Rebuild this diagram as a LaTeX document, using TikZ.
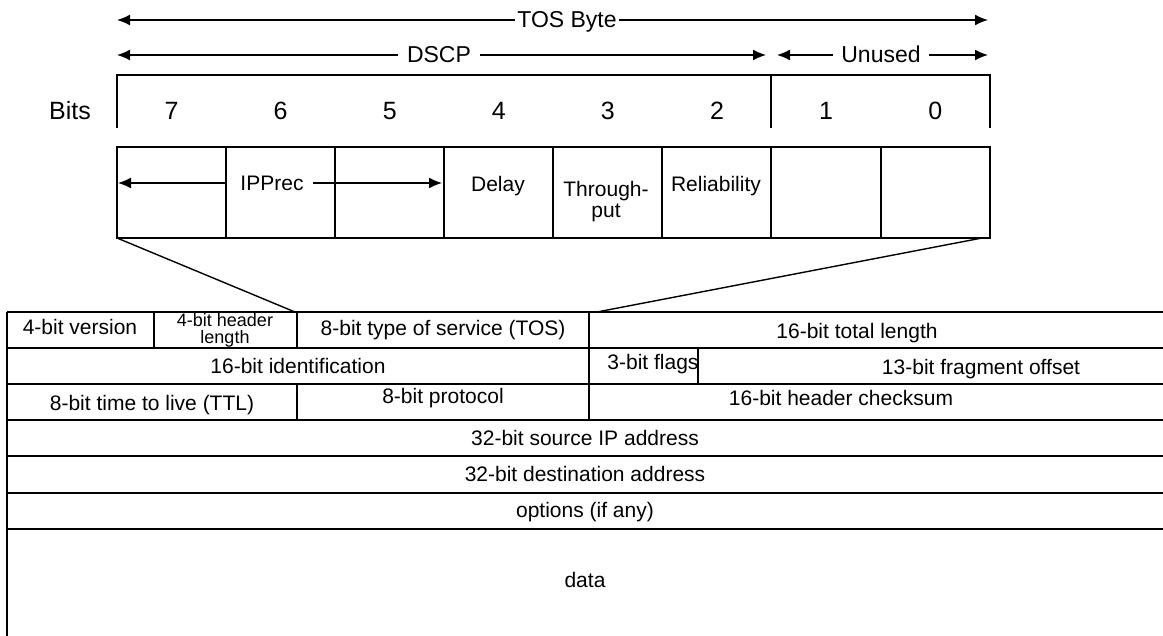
\documentclass[tikz,border=0pt]{standalone}
\usepackage{fontspec}
\setmainfont{Liberation Sans}
\usetikzlibrary{arrows.meta}
\begin{document}
\begin{tikzpicture}[x=1pt,y=-1pt,line width=1.5pt,
  lbl/.style={inner sep=0pt,anchor=base,font=\fontsize{21}{22}\selectfont},
  top/.style={inner sep=0pt,anchor=base,font=\fontsize{23}{25}\selectfont},
  dig/.style={inner sep=0pt,anchor=base,font=\fontsize{25}{27}\selectfont},
  arr/.style={-{Latex[length=13pt,width=11pt]},line width=1.5pt},
  conn/.style={line width=1.4pt}]
\useasboundingbox (0,0) rectangle (1163,636);
\clip (0,0) rectangle (1163,636);
\fill[white] (0,0) rectangle (1163,636);

% ---- top dimension arrows
\node[top] (tos) at (567,28) {TOS Byte};
\coordinate (tosL) at (117,20);
\coordinate (tosR) at (988,20);
\draw[arr] ([xshift=-2pt]tos.west |- tosL) -- (tosL);
\draw[arr] ([xshift=2pt]tos.east |- tosR) -- (tosR);

\node[top] (dscp) at (439,63) {DSCP};
\coordinate (dscpL) at (117,55);
\coordinate (dscpR) at (766,55);
\draw[arr] ([xshift=-8pt]dscp.west |- dscpL) -- (dscpL);
\draw[arr] ([xshift=8pt]dscp.east |- dscpR) -- (dscpR);

\node[top] (unused) at (881,63) {Unused};
\coordinate (unL) at (777,55);
\coordinate (unR) at (988,55);
\draw[arr] ([xshift=-8pt]unused.west |- unL) -- (unL);
\draw[arr] ([xshift=8pt]unused.east |- unR) -- (unR);

% ---- bits bracket
\draw (117,128) -- (117,75) -- (990,75) -- (990,128);
\draw (771,75) -- (771,128);
\node[dig] (bits) at (70,120) {Bits};
\foreach \b [count=\i from 0] in {7,6,5,4,3,2,1,0}
  \node[dig] (d\b) at ({171.5+109.1*\i},120) {\b};

% ---- TOS byte boxes
\draw (117,147) rectangle (990,238);
\foreach \x in {226,335,444,553,662,771,881}
  \draw (\x,147) -- (\x,238);
\node[lbl] (ipprec) at (272,190.5) {IPPrec};
\coordinate (ipL) at (118,183);
\coordinate (ipR) at (442,183);
\draw[arr] (226,183) -- (ipL);
\draw[arr] ([xshift=9pt]ipprec.east |- ipR) -- (ipR);
\node[lbl] (delay) at (498,191.5) {Delay};
\node[inner sep=0pt,align=center,font=\fontsize{21}{21}\selectfont] (thr) at (606,202) {Through-\\put};
\node[lbl] (rel) at (716,192) {Reliability};

% ---- connectors to the header
\coordinate (tosBL) at (117,238);
\coordinate (tosBR) at (982,238);
\coordinate (tblA) at (295,312);
\coordinate (tblB) at (597,312);
\draw[conn] (tosBL) -- (tblA);
\draw[conn] (tosBR) -- (tblB);

% ---- IP header table
\foreach \y in {312,348,384,420,456,493,529}
  \draw (7,\y) -- (1175,\y);
\draw (7,312) -- (7,650);
\draw (154,312) -- (154,348);
\draw (297,312) -- (297,348);
\draw (589,312) -- (589,420);
\draw (698,348) -- (698,384);
\draw (297,384) -- (297,420);

\node[lbl] (ver) at (80,334.5) {4-bit version};
\node[inner sep=0pt,align=center,font=\fontsize{18}{17}\selectfont] (hl) at (225,330) {4-bit header\\length};
\node[lbl] (tosf) at (443,335.5) {8-bit type of service (TOS)};
\node[lbl] (tlen) at (857,338.5) {16-bit total length};
\node[lbl] (ident) at (298,373.5) {16-bit identification};
\node[lbl] (flags) at (653,369.5) {3-bit flags};
\node[lbl] (frag) at (981,374.5) {13-bit fragment offset};
\node[lbl] (ttl) at (152,410.5) {8-bit time to live (TTL)};
\node[lbl] (proto) at (443,403.5) {8-bit protocol};
\node[lbl] (csum) at (841,405.5) {16-bit header checksum};
\node[lbl] (src) at (585,445.5) {32-bit source IP address};
\node[lbl] (dst) at (585,481.5) {32-bit destination address};
\node[lbl] (opt) at (585,517.5) {options (if any)};
\node[lbl] (data) at (585,587.5) {data};
\end{tikzpicture}
\end{document}
